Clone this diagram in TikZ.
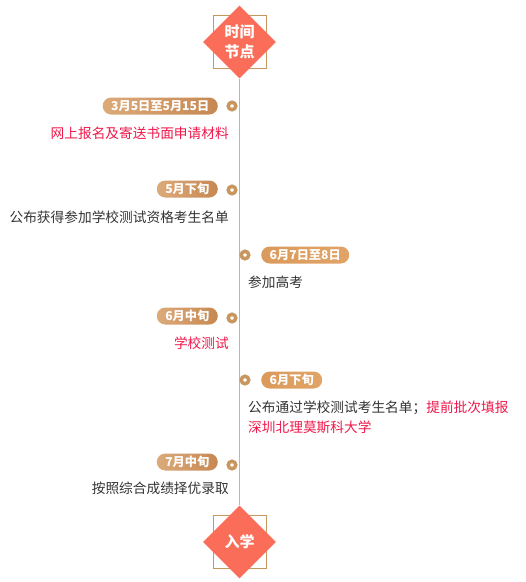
\documentclass[tikz,border=0pt]{standalone}
\usepackage{fontspec}
\setmainfont{Noto Sans CJK SC}
\usetikzlibrary{shapes.geometric}
\definecolor{coral}{HTML}{FA6E59}
\definecolor{tanc}{HTML}{C8965F}
\definecolor{linec}{HTML}{D6AE88}
\definecolor{redt}{HTML}{F0174A}
\definecolor{darkt}{HTML}{333333}
\definecolor{pillL}{HTML}{DCAA7A}
\definecolor{pillR}{HTML}{C68852}
\definecolor{pillOL}{HTML}{D99A5C}
\definecolor{pillOR}{HTML}{E2A466}
\begin{document}
\begin{tikzpicture}[x=1pt,y=-1pt,
  diam/.style={diamond, fill=coral, minimum width=73pt, minimum height=73pt, inner sep=0pt, text=white, font=\bfseries\fontsize{15}{20}\selectfont, align=center},
  framebox/.style={draw=tanc, line width=0.8pt, minimum size=53pt, inner sep=0pt},
  pillbase/.style={rounded corners=8.5pt, minimum height=17pt, inner xsep=8.5pt, inner ysep=0pt, text=white, font=\bfseries\fontsize{12.2}{12}\selectfont},
  pill/.style={pillbase, left color=pillL, right color=pillR},
  pillo/.style={pillbase, left color=pillOL, right color=pillOR},
  dotn/.style={circle, draw=tanc, line width=3.5pt, fill=white, minimum size=7.5pt, inner sep=0pt},
  desc/.style={font=\fontsize{13.7}{20}\selectfont, text=darkt, inner sep=0pt},
  timeline/.style={draw=linec, line width=0.9pt}]
\useasboundingbox (0,0) rectangle (526,582);
% top and bottom markers
\node[framebox] (f1) at (239.5,41.5) {};
\node[diam] (d1) at (239.5,42) {时间\\节点};
\node[framebox] (f2) at (239.5,541.5) {};
\node[diam] (d2) at (239.5,542) {入学};
\draw[timeline] (d1.south) -- (d2.north);
% entry 1
\node[dotn] (p1) at (232,106) {};
\node[pill, anchor=east] (t1) at (218,106) {3月5日至5月15日};
\node[desc, anchor=east, text=redt] (x1) at (229,133) {网上报名及寄送书面申请材料};
% entry 2
\node[dotn] (p2) at (232,190) {};
\node[pill, anchor=east] (t2) at (218,189) {5月下旬};
\node[desc, anchor=east] (x2) at (229,217) {公布获得参加学校测试资格考生名单};
% entry 3
\node[dotn] (p3) at (245,255) {};
\node[pillo, anchor=west] (t3) at (261,255) {6月7日至8日};
\node[desc, anchor=west] (x3) at (248,282) {参加高考};
% entry 4
\node[dotn] (p4) at (232,318) {};
\node[pill, anchor=east] (t4) at (218,316) {6月中旬};
\node[desc, anchor=east, text=redt] (x4) at (229,343) {学校测试};
% entry 5
\node[dotn] (p5) at (245,380) {};
\node[pillo, anchor=west] (t5) at (261,380) {6月下旬};
\node[desc, anchor=west, align=left] (x5) at (248,417) {公布通过学校测试考生名单；\textcolor{redt}{提前批次填报}\\\textcolor{redt}{深圳北理莫斯科大学}};
% entry 6
\node[dotn] (p6) at (232,465) {};
\node[pill, anchor=east] (t6) at (218,462) {7月中旬};
\node[desc, anchor=east] (x6) at (229,488) {按照综合成绩择优录取};
\end{tikzpicture}
\end{document}
